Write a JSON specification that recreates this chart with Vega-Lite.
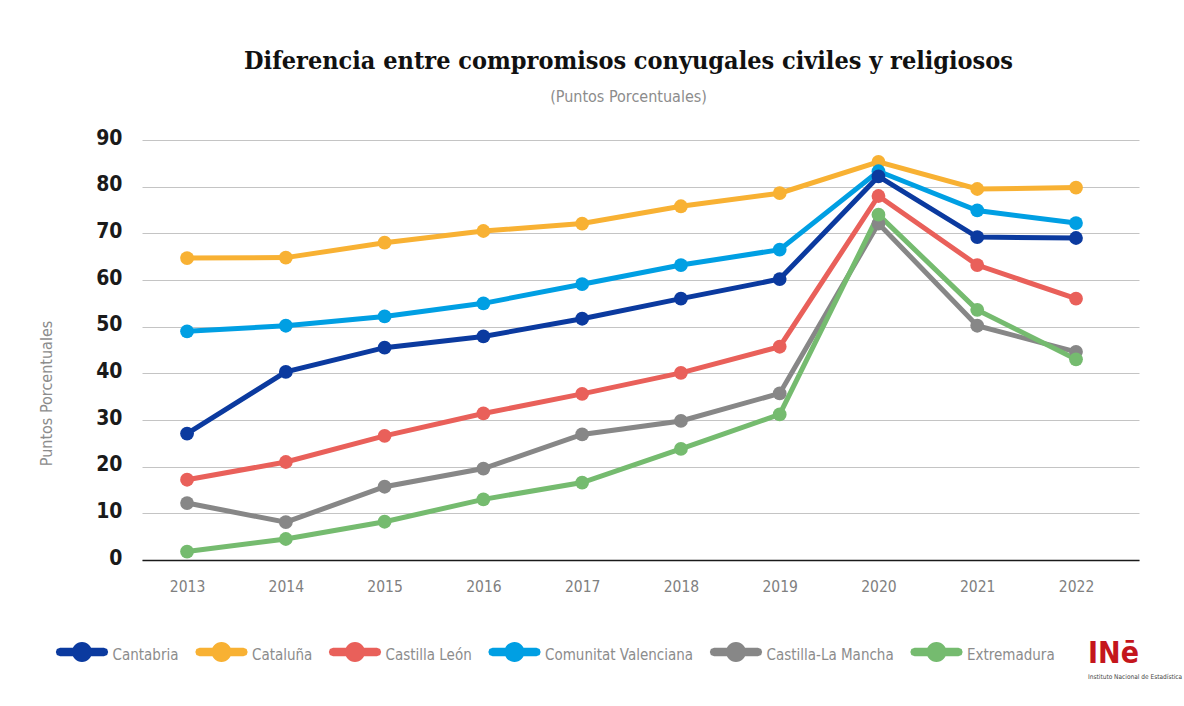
{
  "$schema": "https://vega.github.io/schema/vega-lite/v6.json",
  "width": 997,
  "height": 420,
  "autosize": {"type": "none"},
  "padding": {"left": 142, "top": 140, "right": 45, "bottom": 146},
  "background": "white",
  "title": {
    "text": "Diferencia entre compromisos conyugales civiles y religiosos",
    "subtitle": "(Puntos Porcentuales)",
    "anchor": "middle",
    "frame": "group",
    "dx": -12,
    "offset": 22,
    "font": "DejaVu Serif Condensed, DejaVu Serif, serif",
    "fontSize": 25,
    "fontWeight": "bold",
    "color": "#111111",
    "subtitleFont": "DejaVu Sans Condensed, sans-serif",
    "subtitleFontSize": 16,
    "subtitleColor": "#8c8c8c",
    "subtitlePadding": 15
  },
  "data": {
    "values": [
      {"year": 2013, "region": "Cataluña", "value": 64.7},
      {"year": 2014, "region": "Cataluña", "value": 64.8},
      {"year": 2015, "region": "Cataluña", "value": 68.0},
      {"year": 2016, "region": "Cataluña", "value": 70.5},
      {"year": 2017, "region": "Cataluña", "value": 72.1},
      {"year": 2018, "region": "Cataluña", "value": 75.8},
      {"year": 2019, "region": "Cataluña", "value": 78.6},
      {"year": 2020, "region": "Cataluña", "value": 85.3},
      {"year": 2021, "region": "Cataluña", "value": 79.5},
      {"year": 2022, "region": "Cataluña", "value": 79.8},
      {"year": 2013, "region": "Comunitat Valenciana", "value": 49.0},
      {"year": 2014, "region": "Comunitat Valenciana", "value": 50.2},
      {"year": 2015, "region": "Comunitat Valenciana", "value": 52.2},
      {"year": 2016, "region": "Comunitat Valenciana", "value": 55.0},
      {"year": 2017, "region": "Comunitat Valenciana", "value": 59.1},
      {"year": 2018, "region": "Comunitat Valenciana", "value": 63.2},
      {"year": 2019, "region": "Comunitat Valenciana", "value": 66.5},
      {"year": 2020, "region": "Comunitat Valenciana", "value": 83.3},
      {"year": 2021, "region": "Comunitat Valenciana", "value": 74.9},
      {"year": 2022, "region": "Comunitat Valenciana", "value": 72.2},
      {"year": 2013, "region": "Cantabria", "value": 27.1},
      {"year": 2014, "region": "Cantabria", "value": 40.3},
      {"year": 2015, "region": "Cantabria", "value": 45.5},
      {"year": 2016, "region": "Cantabria", "value": 47.9},
      {"year": 2017, "region": "Cantabria", "value": 51.7},
      {"year": 2018, "region": "Cantabria", "value": 56.0},
      {"year": 2019, "region": "Cantabria", "value": 60.2},
      {"year": 2020, "region": "Cantabria", "value": 82.2},
      {"year": 2021, "region": "Cantabria", "value": 69.2},
      {"year": 2022, "region": "Cantabria", "value": 69.0},
      {"year": 2013, "region": "Castilla León", "value": 17.2},
      {"year": 2014, "region": "Castilla León", "value": 21.0},
      {"year": 2015, "region": "Castilla León", "value": 26.6},
      {"year": 2016, "region": "Castilla León", "value": 31.4},
      {"year": 2017, "region": "Castilla León", "value": 35.6},
      {"year": 2018, "region": "Castilla León", "value": 40.1},
      {"year": 2019, "region": "Castilla León", "value": 45.7},
      {"year": 2020, "region": "Castilla León", "value": 78.0},
      {"year": 2021, "region": "Castilla León", "value": 63.2},
      {"year": 2022, "region": "Castilla León", "value": 56.0},
      {"year": 2013, "region": "Castilla-La Mancha", "value": 12.2},
      {"year": 2014, "region": "Castilla-La Mancha", "value": 8.1},
      {"year": 2015, "region": "Castilla-La Mancha", "value": 15.7},
      {"year": 2016, "region": "Castilla-La Mancha", "value": 19.6},
      {"year": 2017, "region": "Castilla-La Mancha", "value": 26.9},
      {"year": 2018, "region": "Castilla-La Mancha", "value": 29.8},
      {"year": 2019, "region": "Castilla-La Mancha", "value": 35.7},
      {"year": 2020, "region": "Castilla-La Mancha", "value": 72.1},
      {"year": 2021, "region": "Castilla-La Mancha", "value": 50.2},
      {"year": 2022, "region": "Castilla-La Mancha", "value": 44.6},
      {"year": 2013, "region": "Extremadura", "value": 1.8},
      {"year": 2014, "region": "Extremadura", "value": 4.5},
      {"year": 2015, "region": "Extremadura", "value": 8.2},
      {"year": 2016, "region": "Extremadura", "value": 13.0},
      {"year": 2017, "region": "Extremadura", "value": 16.6},
      {"year": 2018, "region": "Extremadura", "value": 23.8},
      {"year": 2019, "region": "Extremadura", "value": 31.2},
      {"year": 2020, "region": "Extremadura", "value": 74.0},
      {"year": 2021, "region": "Extremadura", "value": 53.6},
      {"year": 2022, "region": "Extremadura", "value": 43.0}
    ]
  },
  "layer": [
    {
      "mark": {"type": "line", "strokeWidth": 5},
      "encoding": {
        "x": {
          "field": "year",
          "type": "ordinal",
          "scale": {"type": "point", "padding": 0.547, "align": 0.417},
          "axis": {
            "title": null,
            "labelAngle": 0,
            "ticks": false,
            "labelPadding": 19,
            "labelFont": "DejaVu Sans Condensed, sans-serif",
            "labelFontSize": 15.5,
            "labelColor": "#808080",
            "domainColor": "#1a1a1a",
            "domainWidth": 1.5,
            "grid": false
          }
        },
        "y": {
          "field": "value",
          "type": "quantitative",
          "scale": {"domain": [0, 90], "nice": false},
          "axis": {
            "values": [0, 10, 20, 30, 40, 50, 60, 70, 80, 90],
            "title": "Puntos Porcentuales",
            "titleFont": "DejaVu Sans Condensed, sans-serif",
            "titleFontSize": 16,
            "titleFontWeight": "normal",
            "titleColor": "#8c8c8c",
            "titleAngle": -90,
            "titleX": -96,
            "titleY": 253,
            "titleAlign": "center",
            "titleBaseline": "middle",
            "domain": false,
            "ticks": false,
            "labelPadding": 20,
            "labelFont": "DejaVu Sans Condensed, sans-serif",
            "labelFontSize": 21,
            "labelFontWeight": "bold",
            "labelColor": "#1a1a1a",
            "labelBaseline": "alphabetic",
            "labelOffset": 4,
            "gridColor": "#c4c4c4",
            "gridWidth": 1
          }
        },
        "color": {
          "field": "region",
          "type": "nominal",
          "scale": {
            "domain": ["Cantabria", "Cataluña", "Castilla León", "Comunitat Valenciana", "Castilla-La Mancha", "Extremadura"],
            "range": ["#0b3a9f", "#f8b133", "#e9605a", "#009fe3", "#878787", "#75bb6f"]
          },
          "legend": {
            "title": null,
            "orient": "none",
            "legendX": -82,
            "legendY": 490,
            "direction": "horizontal",
            "columns": 6,
            "symbolType": "M-1,-0.197L1,-0.197L1.15,-0.14L1.197,0L1.15,0.14L1,0.197L-1,0.197L-1.15,0.14L-1.197,0L-1.15,-0.14Z M0.458,0A0.458,0.458 0 1 1 -0.458,0A0.458,0.458 0 1 1 0.458,0Z",
            "symbolSize": 1910,
            "symbolStrokeWidth": 0,
            "symbolOpacity": 1,
            "labelFont": "DejaVu Sans Condensed, sans-serif",
            "labelFontSize": 15,
            "labelColor": "#8c8c8c",
            "labelOffset": 8.5,
            "columnPadding": 15.5,
            "encode": {
              "symbols": {
                "update": {
                  "fill": {"scale": "color", "field": "value"},
                  "fillOpacity": {"value": 1},
                  "strokeWidth": {"value": 0}
                }
              },
              "labels": {
                "update": {
                  "dy": {"value": 3}
                }
              }
            }
          }
        }
      }
    },
    {
      "mark": {"type": "point", "filled": true, "size": 190, "opacity": 1},
      "encoding": {
        "x": {"field": "year", "type": "ordinal"},
        "y": {"field": "value", "type": "quantitative"},
        "color": {"field": "region", "type": "nominal"}
      }
    },
    {
      "data": {"values": [{"logo": "INē"}]},
      "mark": {"type": "text", "align": "left", "baseline": "alphabetic", "dx": 12, "font": "DejaVu Sans Condensed, sans-serif", "fontSize": 30, "fontWeight": "bold", "color": "#c4161c"},
      "encoding": {
        "x": {"datum": 2022, "type": "ordinal"},
        "y": {"datum": -22.0, "type": "quantitative"},
        "text": {"field": "logo", "type": "nominal"}
      }
    },
    {
      "data": {"values": [{"logo": "Instituto Nacional de Estadística"}]},
      "mark": {"type": "text", "align": "left", "baseline": "alphabetic", "dx": 12, "font": "DejaVu Sans Condensed, sans-serif", "fontSize": 6.5, "color": "#444444"},
      "encoding": {
        "x": {"datum": 2022, "type": "ordinal"},
        "y": {"datum": -25.5, "type": "quantitative"},
        "text": {"field": "logo", "type": "nominal"}
      }
    }
  ],
  "config": {
    "view": {"stroke": null}
  }
}
